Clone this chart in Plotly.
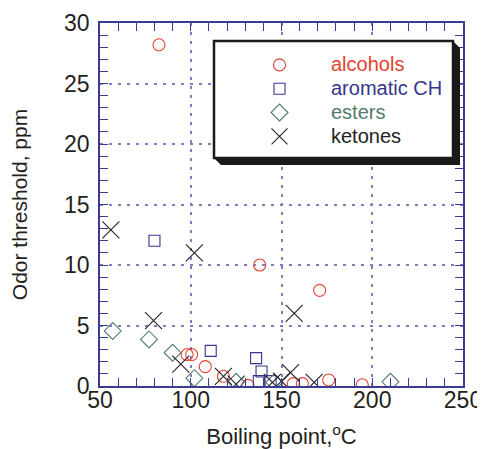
import plotly.graph_objects as go

# ---- data ----
alcohols_bp = [82.5, 98, 100.5, 108, 118, 131.5, 138, 156.5, 161.5, 171, 176, 194.5]
alcohols_odor = [28.2, 2.6, 2.6, 1.6, 0.8, 0.05, 10.0, 0.2, 0.2, 7.9, 0.5, 0.1]

aromatic_bp = [80, 111, 136, 139, 137.5, 144]
aromatic_odor = [12.0, 2.9, 2.3, 1.2, 0.4, 0.4]

esters_bp = [57, 77, 90, 102, 125, 146, 210]
esters_odor = [4.55, 3.85, 2.75, 0.65, 0.35, 0.3, 0.35]

ketones_bp = [56, 79.5, 94.5, 102, 118, 125, 145, 150, 155, 157, 168]
ketones_odor = [12.9, 5.4, 1.8, 11.0, 0.8, 0.15, 0.3, 0.4, 1.1, 6.0, 0.3]

series_names = ["alcohols", "aromatic CH", "esters", "ketones"]
x_ticks = [50, 100, 150, 200, 250]
y_ticks = [0, 5, 10, 15, 20, 25, 30]

# ---- styling ----
BODY = 8                      # default page margin around the plot div
WIN_W, WIN_H = 485, 449
PL, PT, PW, PH = 100, 23, 363, 363   # plot area in window pixels
W, H = WIN_W - BODY, WIN_H - BODY
ML, MT = PL - BODY, PT - BODY
MR, MB = W - ML - PW, H - MT - PH
AXIS = "#3b3b94"
GRID = "#7d7dc2"
TXT = "#231f20"
FONT = "Liberation Sans, Arial, sans-serif"

colors = ["#e5432e", "#35358f", "#4f7c6c", "#222222"]
symbols = ["circle-open", "square-open", "diamond-open", "x-thin-open"]
sizes = [12, 11, 13, 17]
xs = [alcohols_bp, aromatic_bp, esters_bp, ketones_bp]
ys = [alcohols_odor, aromatic_odor, esters_odor, ketones_odor]

fig = go.Figure()
for name, x, y, c, s, sz in zip(series_names, xs, ys, colors, symbols, sizes):
    fig.add_trace(go.Scatter(
        x=x, y=y, mode="markers",
        name=f"<span style='color:{c};font-size:20px'>{name}</span>",
        marker=dict(symbol=s, size=sz, color=c, line=dict(color=c, width=1.1)),
    ))


def px(xp):
    return (xp - PL) / PW


def py(yp):
    return (PT + PH - yp) / PH


# legend box with shadow (window pixel positions)
bx0, by0, bx1, by1, off = 214, 41, 453, 158, 7
shadow_path = (f"M {px(bx1)},{py(by0)} L {px(bx1+off)},{py(by0+off)} "
               f"L {px(bx1+off)},{py(by1+off)} L {px(bx0+off)},{py(by1+off)} "
               f"L {px(bx0)},{py(by1)} L {px(bx1)},{py(by1)} Z")
shapes = [
    dict(type="path", xref="paper", yref="paper", path=shadow_path,
         fillcolor="#1a1a1a", line=dict(width=0), layer="above"),
    dict(type="rect", xref="paper", yref="paper",
         x0=px(bx0), x1=px(bx1), y0=py(by1), y1=py(by0),
         fillcolor="white", line=dict(color="#1a1a1a", width=2.5), layer="above"),
]

axis_common = dict(
    showline=True, linecolor=AXIS, linewidth=1.5, mirror="ticks",
    ticks="inside", ticklen=8, tickwidth=1.3, tickcolor=AXIS,
    showgrid=True, gridcolor=GRID, gridwidth=1.5, griddash="3px,6px",
    zeroline=False, automargin=False,
    tickfont=dict(family=FONT, size=23, color=TXT),
)

fig.update_layout(
    template="none",
    width=W, height=H,
    margin=dict(l=ML, r=MR, t=MT, b=MB, pad=0),
    paper_bgcolor="white", plot_bgcolor="white",
    font=dict(family=FONT, color=TXT),
    showlegend=True,
    legend=dict(
        x=px(228), y=py(48), xanchor="left", yanchor="top",
        bgcolor="rgba(0,0,0,0)", borderwidth=0,
        font=dict(family=FONT, size=16, color=TXT),
        itemwidth=93, tracegroupgap=0,
    ),
    shapes=shapes,
    xaxis=dict(
        range=[50, 250], tickvals=x_ticks, ticktext=[str(v) for v in x_ticks],
        minor=dict(dtick=10, tick0=50, ticks="inside", ticklen=8, tickcolor=AXIS,
                   tickwidth=1.3, showgrid=False),
        title=dict(text="Boiling point,<sup>o</sup>C",
                   font=dict(family=FONT, size=22, color=TXT), standoff=27),
        ticklabelstandoff=-7,
        **axis_common,
    ),
    yaxis=dict(
        range=[0, 30], tickvals=y_ticks, ticktext=[str(v) for v in y_ticks],
        minor=dict(dtick=1, tick0=0, ticks="inside", ticklen=8, tickcolor=AXIS,
                   tickwidth=1.3, showgrid=False),
        title=dict(text="Odor threshold, ppm",
                   font=dict(family=FONT, size=21, color=TXT), standoff=32),
        ticklabelstandoff=4,
        **axis_common,
    ),
)

fig.write_html("out.html")
